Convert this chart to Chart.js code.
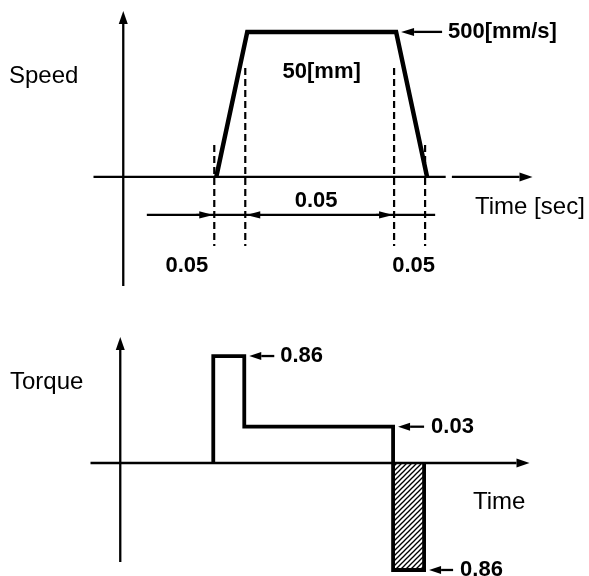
<!DOCTYPE html>
<html>
<head>
<meta charset="utf-8">
<title>Speed and torque profile</title>
<script src="https://cdn.jsdelivr.net/npm/chart.js@4.4.0/dist/chart.umd.min.js"></script>
<style>
  html, body { margin: 0; padding: 0; background: #fff; }
  .panel { position: absolute; left: 0; width: 589px; }
  #speedPanel { top: 0; height: 300px; }
  #torquePanel { top: 300px; height: 276px; }
</style>
</head>
<body>
<div class="panel" id="speedPanel"><canvas id="speedChart" width="589" height="300"></canvas></div>
<div class="panel" id="torquePanel"><canvas id="torqueChart" width="589" height="276"></canvas></div>
<script>
// move profile: trapezoid speed curve and the torque it needs
const speedTimes = [0.15, 0.20, 0.44, 0.49];          // sec
const speedValues = [0, 500, 500, 0];                 // mm/s
const torqueTimes = [0.15, 0.15, 0.20, 0.20, 0.44, 0.44];
const torqueValues = [0, 0.86, 0.86, 0.03, 0.03, 0];
const brakeTimes = [0.44, 0.44, 0.49, 0.49];
const brakeValues = [0, -0.86, -0.86, 0];
const phaseLabels = ['0.05', '0.05', '0.05'];         // accel, constant, decel
const peakLabel = '500[mm/s]';
const distanceLabel = '50[mm]';
const axisLabels = ['Speed', 'Time [sec]', 'Torque', 'Time'];

const INK = '#000';
const BOLD = 'bold 22px "Liberation Sans", Arial, sans-serif';
const PLAIN = '24px "Liberation Sans", Arial, sans-serif';
const TORQUE_EXP = 0.322;   // compresses the torque axis so small values stay visible

// linear scale with a signed power warp
class PowerScale extends Chart.LinearScale {
  warp(v) { return Math.sign(v) * Math.pow(Math.abs(v), TORQUE_EXP); }
  getPixelForValue(v) {
    const lo = this.warp(this.min), hi = this.warp(this.max);
    return this.getPixelForDecimal((this.warp(v) - lo) / (hi - lo));
  }
  getValueForPixel(p) {
    const lo = this.warp(this.min), hi = this.warp(this.max);
    const w = lo + this.getDecimalForPixel(p) * (hi - lo);
    return Math.sign(w) * Math.pow(Math.abs(w), 1 / TORQUE_EXP);
  }
}
PowerScale.id = 'power';
PowerScale.defaults = Chart.LinearScale.defaults;
Chart.register(PowerScale);

function toPoints(xs, ys) {
  return xs.map((t, i) => ({ x: t, y: ys[i] }));
}

function line(ctx, x1, y1, x2, y2) {
  ctx.beginPath();
  ctx.moveTo(x1, y1);
  ctx.lineTo(x2, y2);
  ctx.stroke();
}

// line from tail to tip with a filled head at the tip
function arrow(ctx, x1, y1, x2, y2, len, half) {
  const a = Math.atan2(y2 - y1, x2 - x1);
  const bx = x2 - len * Math.cos(a), by = y2 - len * Math.sin(a);
  line(ctx, x1, y1, bx, by);
  ctx.beginPath();
  ctx.moveTo(x2, y2);
  ctx.lineTo(bx + half * Math.sin(a), by - half * Math.cos(a));
  ctx.lineTo(bx - half * Math.sin(a), by + half * Math.cos(a));
  ctx.closePath();
  ctx.fill();
}

function text(ctx, str, x, y, font, align) {
  ctx.font = font;
  ctx.textAlign = align || 'left';
  ctx.textBaseline = 'middle';
  ctx.fillText(str, x, y);
}

function hatchPattern() {
  const c = document.createElement('canvas');
  c.width = 5; c.height = 5;
  const g = c.getContext('2d');
  g.strokeStyle = INK;
  g.lineWidth = 1.3;
  line(g, -1, 6, 6, -1);
  line(g, -1, 1, 1, -1);
  line(g, 4, 6, 6, 4);
  return g.createPattern(c, 'repeat');
}

const speedDecor = {
  id: 'speedDecor',
  beforeDatasetsDraw(chart) {
    const { ctx, chartArea: a, scales: { x, y } } = chart;
    const px = v => x.getPixelForValue(v);
    const x0 = px(0), y0 = y.getPixelForValue(0);
    ctx.save();
    ctx.strokeStyle = INK; ctx.fillStyle = INK; ctx.lineWidth = 2.3;
    arrow(ctx, x0, a.bottom, x0, a.top, 13, 4.5);
    line(ctx, a.left, y0, px(0.52), y0);
    arrow(ctx, px(0.53), y0, a.right, y0, 13, 4.5);

    // phase boundaries
    ctx.lineWidth = 2.2;
    ctx.setLineDash([7, 4]);
    [0.15, 0.49].forEach(t => line(ctx, px(t) - 2, y0 - 32, px(t) - 2, y0 + 69));
    [0.20, 0.44].forEach(t => line(ctx, px(t) - 2, y0 - 109, px(t) - 2, y0 + 69));
    ctx.restore();
  },
  afterDatasetsDraw(chart) {
    const { ctx, scales: { x, y } } = chart;
    const px = v => x.getPixelForValue(v);
    const y0 = y.getPixelForValue(0), yTop = y.getPixelForValue(500);
    ctx.save();
    ctx.strokeStyle = INK; ctx.fillStyle = INK; ctx.lineWidth = 2.3;

    const tip = px(0.44) + 5;
    arrow(ctx, tip + 41, yTop, tip, yTop, 13, 4);
    text(ctx, peakLabel, tip + 47, yTop, BOLD);
    text(ctx, distanceLabel, px(0.32), yTop + 40, BOLD, 'center');

    // dimension line for the three phases
    const yd = y0 + 38;
    ctx.lineWidth = 2.2;
    line(ctx, px(0.038), yd, px(0.503), yd);
    arrow(ctx, px(0.15) - 20, yd, px(0.15) - 3, yd, 14, 3.6);
    arrow(ctx, px(0.20) + 12, yd, px(0.20) - 1, yd, 14, 3.6);
    arrow(ctx, px(0.44) - 20, yd, px(0.44) - 3, yd, 14, 3.6);

    text(ctx, phaseLabels[1], px(0.311), y0 + 24, BOLD, 'center');
    text(ctx, phaseLabels[0], px(0.15) - 8, y0 + 89, BOLD, 'right');
    text(ctx, phaseLabels[2], px(0.465) + 2, y0 + 89, BOLD, 'center');

    text(ctx, axisLabels[0], 9, 76, PLAIN);
    text(ctx, axisLabels[1], 475, y0 + 30, PLAIN);
    ctx.restore();
  }
};

const torqueDecor = {
  id: 'torqueDecor',
  beforeDatasetsDraw(chart) {
    const { ctx, chartArea: a, scales: { x, y } } = chart;
    const x0 = x.getPixelForValue(0), y0 = y.getPixelForValue(0);
    ctx.save();
    ctx.strokeStyle = INK; ctx.fillStyle = INK; ctx.lineWidth = 2.3;
    arrow(ctx, x0, a.bottom - 10, x0, a.top, 13, 4.5);
    arrow(ctx, a.left, y0, a.right, y0, 13, 4.5);
    ctx.restore();
  },
  afterDatasetsDraw(chart) {
    const { ctx, scales: { x, y } } = chart;
    const px = v => x.getPixelForValue(v);
    const y0 = y.getPixelForValue(0);
    ctx.save();
    ctx.strokeStyle = INK; ctx.fillStyle = INK; ctx.lineWidth = 2.3;

    let tip = px(0.20) + 5, yy = y.getPixelForValue(0.86);
    arrow(ctx, tip + 25, yy, tip, yy, 12, 4);
    text(ctx, '0.86', tip + 31, yy, BOLD);

    tip = px(0.44) + 5; yy = y.getPixelForValue(0.03);
    arrow(ctx, tip + 26, yy, tip, yy, 12, 4);
    text(ctx, '0.03', tip + 33, yy, BOLD);

    tip = px(0.49) + 5; yy = y.getPixelForValue(-0.86);
    arrow(ctx, tip + 24, yy, tip, yy, 12, 4);
    text(ctx, '0.86', tip + 31, yy, BOLD);

    text(ctx, axisLabels[2], 10, 82, PLAIN);
    text(ctx, axisLabels[3], 473, y0 + 39, PLAIN);
    ctx.restore();
  }
};

const baseOptions = (pad, yScale) => ({
  responsive: false,
  animation: false,
  layout: { padding: pad },
  plugins: { legend: { display: false }, tooltip: { enabled: false } },
  elements: { point: { radius: 0 }, line: { tension: 0, borderJoinStyle: 'miter', borderCapStyle: 'butt' } },
  scales: {
    x: { type: 'linear', display: false, min: -0.048, max: 0.66 },
    y: yScale
  }
});

new Chart(document.getElementById('speedChart'), {
  type: 'line',
  data: {
    datasets: [{
      data: toPoints(speedTimes, speedValues),
      borderColor: INK,
      borderWidth: 4.5,
      fill: false,
      clip: false
    }]
  },
  options: baseOptions({ left: 93.5, right: 56.5, top: 11, bottom: 14 },
    { type: 'linear', display: false, min: -376, max: 572 }),
  plugins: [speedDecor]
});

new Chart(document.getElementById('torqueChart'), {
  type: 'line',
  data: {
    datasets: [{
      data: toPoints(torqueTimes, torqueValues),
      borderColor: INK,
      borderWidth: 3.8,
      fill: false,
      clip: false
    }, {
      data: toPoints(brakeTimes, brakeValues),
      borderColor: INK,
      borderWidth: 3.8,
      backgroundColor: hatchPattern(),
      fill: 'origin',
      clip: false
    }]
  },
  options: baseOptions({ left: 90.5, right: 59.5, top: 37, bottom: 4 },
    { type: 'power', display: false, min: -0.9115, max: 1.43 }),
  plugins: [torqueDecor]
});
</script>
</body>
</html>
